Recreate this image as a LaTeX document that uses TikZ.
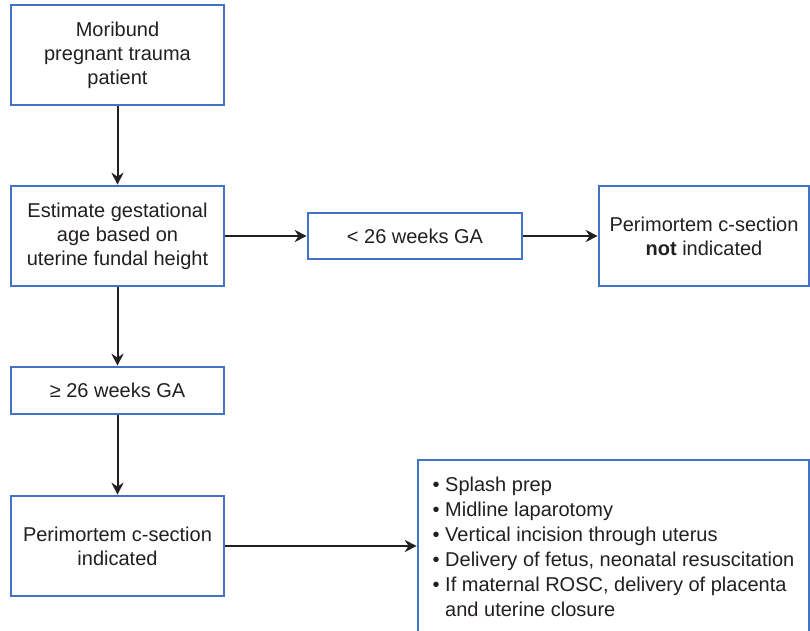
\documentclass[tikz,border=0pt]{standalone}
\usepackage{fontspec}
\setmainfont{Liberation Sans}
\usetikzlibrary{arrows.meta}
\definecolor{boxblue}{HTML}{4472C4}
\definecolor{ink}{HTML}{231F20}
\begin{document}
\begin{tikzpicture}[x=0.5pt, y=-0.5pt,
	    font=\fontsize{10}{12}\selectfont, text=ink,
	    box/.style={draw=boxblue, line width=1.3pt, fill=white, align=center, inner sep=2pt},
	    flow/.style={-{Stealth[length=6pt, width=6pt]}, line width=1pt, draw=ink}]
	    \useasboundingbox (0,0) rectangle (810,631);
	    % left column
	    \node[box, minimum width=106.5pt, minimum height=50pt] (moribund) at (117.5,55) {Moribund\\ pregnant trauma\\ patient};
	    \node[box, minimum width=106.5pt, minimum height=50pt] (estimate) at (117.5,236) {Estimate gestational\\ age based on\\ uterine fundal height};
	    \node[box, minimum width=106.5pt, minimum height=23.5pt] (over) at (117.5,390.5) {≥ 26 weeks GA};
	    \node[box, minimum width=106.5pt, minimum height=50pt] (indicated) at (117.5,546) {Perimortem c-section\\ indicated};
	    % right side
	    \node[box, minimum width=107pt, minimum height=23pt] (under) at (415,236) {< 26 weeks GA};
	    \node[box, minimum width=105pt, minimum height=50pt] (notind) at (704,236) {Perimortem c-section\\ \textbf{not} indicated};
	    \node[box, align=left, minimum width=195.5pt, minimum height=87pt,
	        font=\fontsize{10}{12.5}\selectfont] (steps) at (613.5,547) {\textbullet\ Splash prep\\
	    	\textbullet\ Midline laparotomy\\
	    	\textbullet\ Vertical incision through uterus\\
	    	\textbullet\ Delivery of fetus, neonatal resuscitation\\
	    	\textbullet\ If maternal ROSC, delivery of placenta\\
	    	\phantom{\textbullet\ }and uterine closure};
	    % connectors
	    \draw[flow] (moribund) -- (estimate);
	    \draw[flow] (estimate) -- (under);
	    \draw[flow] (under) -- (notind);
	    \draw[flow] (estimate) -- (over);
	    \draw[flow] (over) -- (indicated);
	    \draw[flow] (indicated) -- (indicated -| steps.west);
\end{tikzpicture}
\end{document}
